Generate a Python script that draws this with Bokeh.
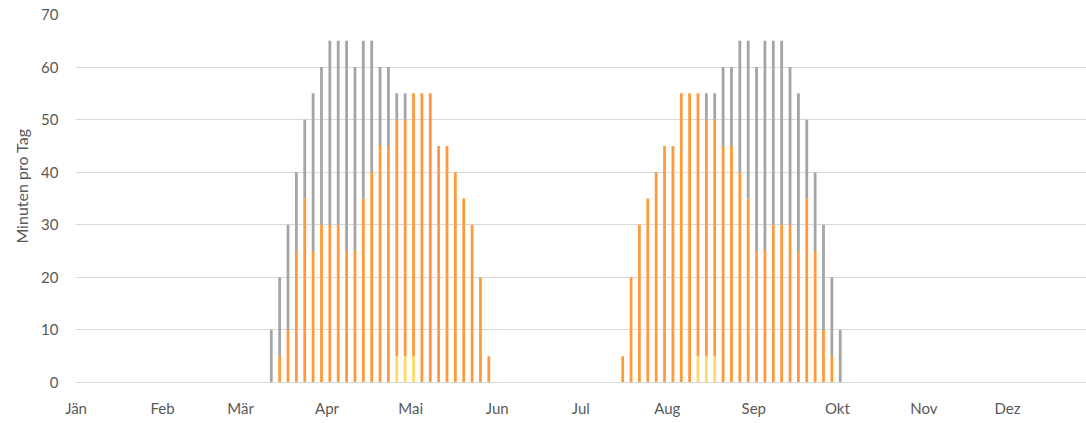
from bokeh.plotting import figure
from bokeh.models import FixedTicker, Range1d, ColumnDataSource, Title
from bokeh.embed import file_html
from bokeh.resources import INLINE

# Month labels at the first day of each month (day of year, 0 = 1 Jan)
months = ["Jän", "Feb", "Mär", "Apr", "Mai", "Jun", "Jul", "Aug", "Sep", "Okt", "Nov", "Dez"]
month_start = [0, 31, 59, 90, 120, 151, 181, 212, 243, 273, 304, 334]

# Day of year of each bar
days = [70, 73, 76, 79, 82, 85, 88, 91, 94, 97, 100, 103, 106, 109, 112, 115, 118, 121, 124,
        127, 130, 133, 136, 139, 142, 145, 148,
        196, 199, 202, 205, 208, 211, 214, 217, 220, 223, 226, 229, 232, 235, 238, 241, 244,
        247, 250, 253, 256, 259, 262, 265, 268, 271, 274]

# Stacked segments (minutes per day)
yellow = [0, 0, 0, 0, 0, 0, 0, 0, 0, 0, 0, 0, 0, 0, 0, 5, 5, 5, 0, 0, 0, 0, 0, 0, 0, 0, 0,
          0, 0, 0, 0, 0, 0, 0, 0, 0, 5, 5, 5, 0, 0, 0, 0, 0, 0, 0, 0, 0, 0, 0, 0, 0, 0, 0]
orange = [0, 5, 10, 25, 35, 25, 30, 30, 30, 25, 25, 35, 40, 45, 45, 45, 45, 50, 55, 55, 45, 45, 40, 35, 30, 20, 5,
          5, 20, 30, 35, 40, 45, 45, 55, 55, 50, 45, 45, 45, 45, 40, 35, 25, 25, 30, 30, 30, 25, 35, 25, 10, 5, 0]
gray = [10, 15, 20, 15, 15, 30, 30, 35, 35, 40, 35, 30, 25, 15, 15, 5, 5, 0, 0, 0, 0, 0, 0, 0, 0, 0, 0,
        0, 0, 0, 0, 0, 0, 0, 0, 0, 0, 5, 5, 15, 15, 25, 30, 35, 40, 35, 35, 30, 30, 15, 15, 20, 15, 10]

series = ["yellow", "orange", "gray"]
colors = ["#FFD966", "#FF9A3C", "#A5A5A5"]

source = ColumnDataSource(dict(day=days, yellow=yellow, orange=orange, gray=gray))

FONT = "Lato"
TXT = "#595959"

p = figure(width=1086, height=423, output_backend="svg", toolbar_location=None,
           x_range=Range1d(-0.2, 362.3), y_range=Range1d(0, 70),
           min_border_left=75, min_border_right=0, min_border_top=14, min_border_bottom=41)

p.vbar_stack(series, x="day", width=1.0, color=colors, line_color=None, source=source)

p.outline_line_color = None
p.background_fill_color = "white"
p.border_fill_color = "white"

p.xgrid.grid_line_color = None
p.ygrid.grid_line_color = "#D9D9D9"
p.ygrid.grid_line_width = 1

p.xaxis.ticker = FixedTicker(ticks=month_start)
p.xaxis.major_label_overrides = {d: m for d, m in zip(month_start, months)}
p.xaxis.axis_line_color = "#D9D9D9"
p.xaxis.major_tick_line_color = None
p.xaxis.minor_tick_line_color = None
p.xaxis.major_tick_out = 0
p.xaxis.major_label_standoff = 16
p.xaxis.major_label_text_font = FONT
p.xaxis.major_label_text_font_size = "15px"
p.xaxis.major_label_text_color = TXT

p.yaxis.ticker = FixedTicker(ticks=[0, 10, 20, 30, 40, 50, 60, 70])
p.yaxis.axis_line_color = None
p.yaxis.major_tick_line_color = None
p.yaxis.minor_tick_line_color = None
p.yaxis.major_tick_out = 0
p.yaxis.major_label_standoff = 17
p.yaxis.major_label_text_font = FONT
p.yaxis.major_label_text_font_size = "15px"
p.yaxis.major_label_text_color = TXT

ylab = Title(text="Minuten pro Tag", align="right", offset=114, standoff=16,
             text_font=FONT, text_font_size="16px", text_font_style="normal",
             text_color=TXT)
p.add_layout(ylab, "left")

open("out.html", "w").write(file_html(p, INLINE))
